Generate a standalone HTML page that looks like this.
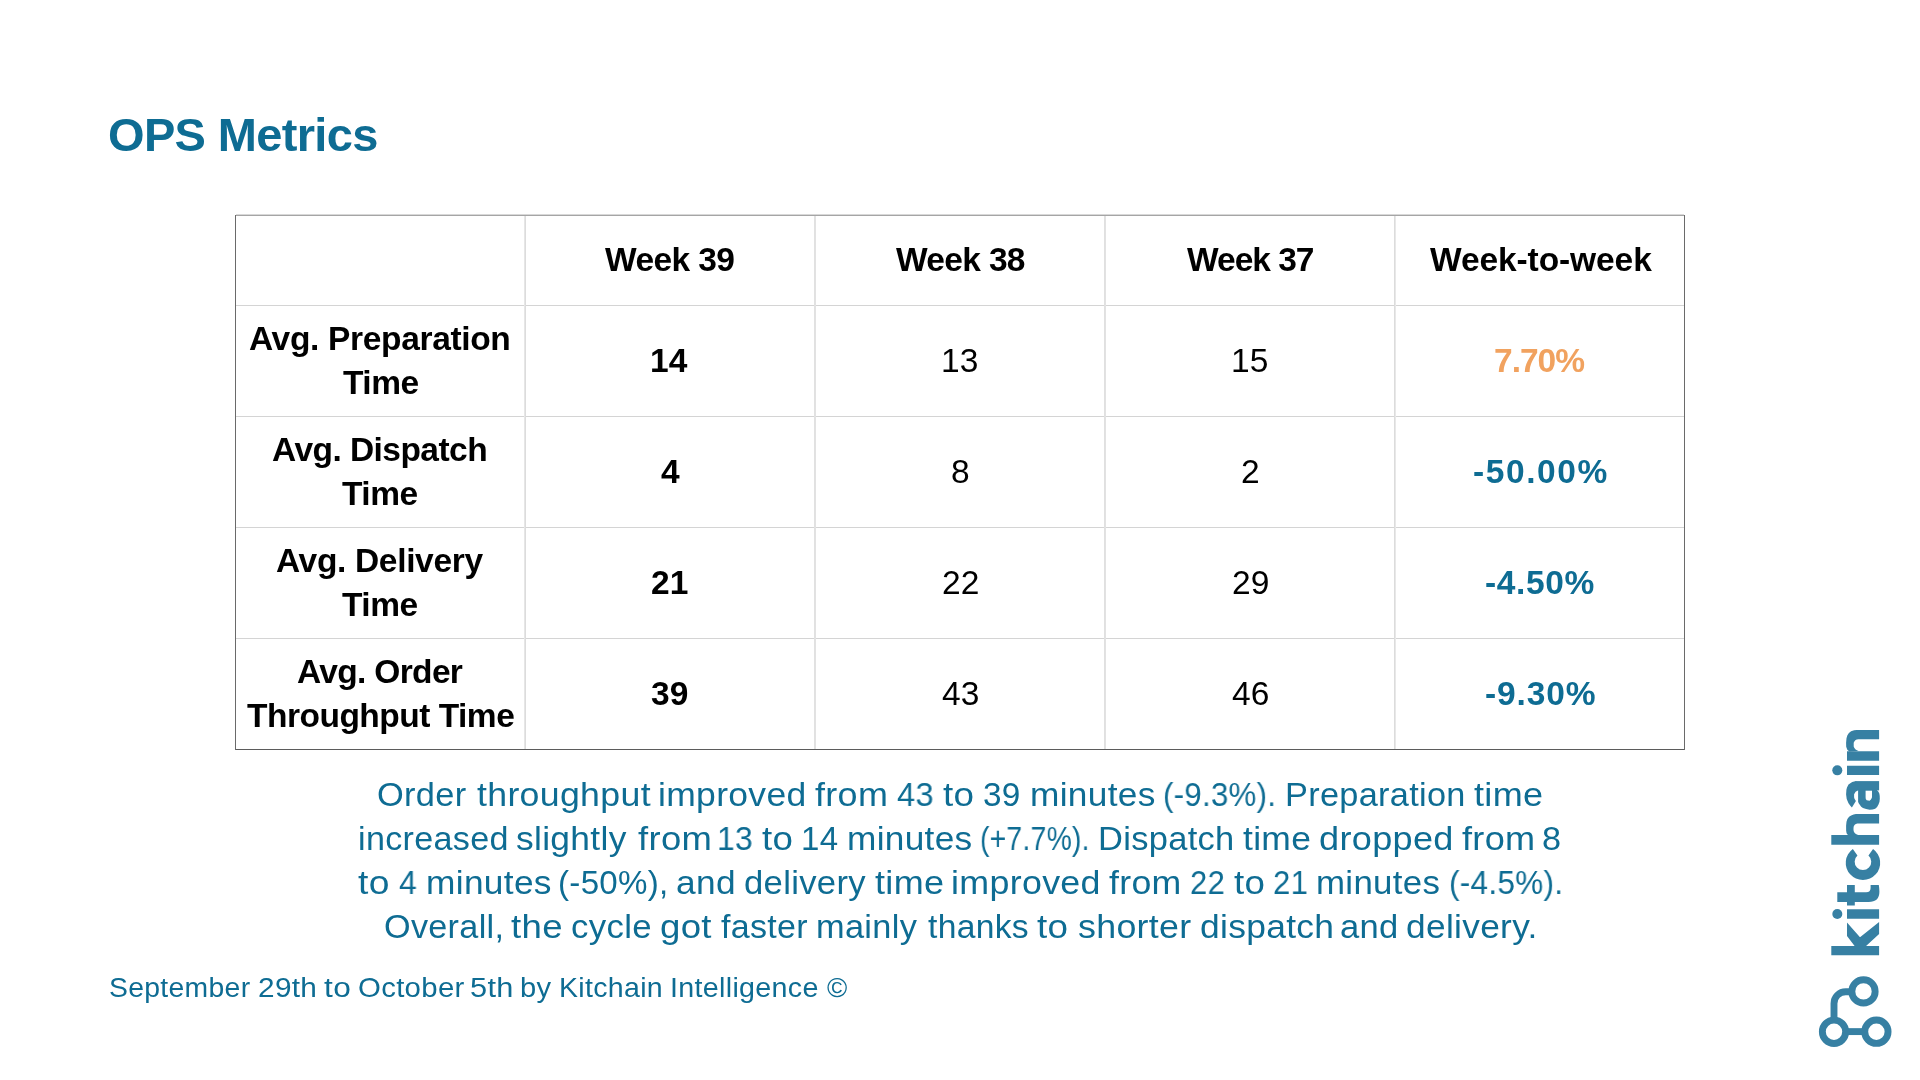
<!DOCTYPE html>
<html>
<head>
<meta charset="utf-8">
<style>
html,body{margin:0;padding:0;background:#fff;}
body{width:1920px;height:1080px;position:relative;overflow:hidden;font-family:"Liberation Sans",sans-serif;}
.t{position:absolute;white-space:nowrap;line-height:1;will-change:transform;}
.b{font-weight:bold;}
.hl{position:absolute;left:235px;width:1450px;height:1px;background:#d4d4d4;}
.vl{position:absolute;top:216px;height:533px;width:1px;background:#d4d4d4;}
.ob{position:absolute;background:#6a6a6a;}
</style>
</head>
<body>
<div class="hl" style="top:305px"></div>
<div class="hl" style="top:416px"></div>
<div class="hl" style="top:527px"></div>
<div class="hl" style="top:638px"></div>
<div class="vl" style="left:524px;background:#e6e6e6"></div>
<div class="vl" style="left:525px;background:#dcdcdc"></div>
<div class="vl" style="left:814px;background:#e1e1e1"></div>
<div class="vl" style="left:815px;background:#e2e2e2"></div>
<div class="vl" style="left:1104px;background:#e0e0e0"></div>
<div class="vl" style="left:1105px;background:#e2e2e2"></div>
<div class="vl" style="left:1394px;background:#dcdcdc"></div>
<div class="vl" style="left:1395px;background:#e8e8e8"></div>
<div class="ob" style="left:236px;top:214px;width:1448px;height:1px;background:#d8d8d8"></div>
<div class="ob" style="left:236px;top:215px;width:1448px;height:1px;background:#a5a5a5"></div>
<div class="ob" style="left:235px;top:749px;width:1450px;height:1px;background:#5b5b5b"></div>
<div class="ob" style="left:235px;top:215px;width:1px;height:535px"></div>
<div class="ob" style="left:1684px;top:215px;width:1px;height:535px"></div>
<div id="title" class="t b" style="left:108.35px;top:111.00px;font-size:47px;color:#0e6c93;letter-spacing:-0.650px">OPS Metrics</div>
<div id="h1" class="t b" style="left:605.00px;top:242.90px;font-size:33.5px;color:#000;letter-spacing:-0.583px">Week 39</div>
<div id="h2" class="t b" style="left:895.75px;top:242.90px;font-size:33.5px;color:#000;letter-spacing:-0.667px">Week 38</div>
<div id="h3" class="t b" style="left:1187.00px;top:242.90px;font-size:33.5px;color:#000;letter-spacing:-1.000px">Week 37</div>
<div id="h4" class="t b" style="left:1429.75px;top:243.00px;font-size:33.5px;color:#000;letter-spacing:-0.091px">Week-to-week</div>
<div id="r1a" class="t b" style="left:249.35px;top:322.30px;font-size:33.5px;color:#000;letter-spacing:-0.333px">Avg. Preparation</div>
<div id="r1b" class="t b" style="left:342.57px;top:365.60px;font-size:33.5px;color:#000;letter-spacing:-0.500px">Time</div>
<div id="r2a" class="t b" style="left:272.14px;top:433.20px;font-size:33.5px;color:#000;letter-spacing:-0.542px">Avg. Dispatch</div>
<div id="r2b" class="t b" style="left:342.00px;top:477.20px;font-size:33.5px;color:#000;letter-spacing:-0.500px">Time</div>
<div id="r3a" class="t b" style="left:276.14px;top:544.20px;font-size:33.5px;color:#000;letter-spacing:-0.333px">Avg. Delivery</div>
<div id="r3b" class="t b" style="left:342.00px;top:588.20px;font-size:33.5px;color:#000;letter-spacing:-0.500px">Time</div>
<div id="r4a" class="t b" style="left:296.57px;top:655.20px;font-size:33.5px;color:#000;letter-spacing:-0.667px">Avg. Order</div>
<div id="r4b" class="t b" style="left:246.57px;top:699.20px;font-size:33.5px;color:#000;letter-spacing:-0.500px">Throughput Time</div>
<div id="p1" class="t b" style="left:1493.75px;top:343.90px;font-size:33.5px;color:#f1a25f;letter-spacing:-1.000px">7.70%</div>
<div id="p2" class="t b" style="left:1472.75px;top:454.90px;font-size:33.5px;color:#0e6c93;letter-spacing:1.583px">-50.00%</div>
<div id="p3" class="t b" style="left:1485.17px;top:565.90px;font-size:33.5px;color:#0e6c93;letter-spacing:0.650px">-4.50%</div>
<div id="p4" class="t b" style="left:1484.75px;top:677.30px;font-size:33.5px;color:#0e6c93;letter-spacing:0.900px">-9.30%</div>
<div id="l1_w0" class="t" style="left:377.45px;top:777.80px;font-size:33px;color:#0e6c93;letter-spacing:0.300px;transform:scaleX(1.0423);transform-origin:0 0;">Order</div>
<div id="l1_w1" class="t" style="left:477.00px;top:777.80px;font-size:33px;color:#0e6c93;letter-spacing:0.300px;transform:scaleX(1.0813);transform-origin:0 0;">throughput</div>
<div id="l1_w2" class="t" style="left:658.01px;top:777.80px;font-size:33px;color:#0e6c93;letter-spacing:0.300px;transform:scaleX(1.0754);transform-origin:0 0;">improved</div>
<div id="l1_w3" class="t" style="left:815.40px;top:777.80px;font-size:33px;color:#0e6c93;letter-spacing:0.300px;transform:scaleX(1.0892);transform-origin:0 0;">from</div>
<div id="l1_w4" class="t" style="left:897.00px;top:777.80px;font-size:33px;color:#0e6c93;letter-spacing:0.300px;transform:scaleX(0.9861);transform-origin:0 0;">43</div>
<div id="l1_w5" class="t" style="left:943.20px;top:777.80px;font-size:33px;color:#0e6c93;letter-spacing:0.300px;transform:scaleX(1.1148);transform-origin:0 0;">to</div>
<div id="l1_w6" class="t" style="left:982.99px;top:777.80px;font-size:33px;color:#0e6c93;letter-spacing:0.300px;transform:scaleX(1.0086);transform-origin:0 0;">39</div>
<div id="l1_w7" class="t" style="left:1030.23px;top:777.80px;font-size:33px;color:#0e6c93;letter-spacing:0.300px;transform:scaleX(1.0684);transform-origin:0 0;">minutes</div>
<div id="l1_w8" class="t" style="left:1163.11px;top:777.80px;font-size:33px;color:#0e6c93;letter-spacing:0.300px;transform:scaleX(0.9457);transform-origin:0 0;">(-9.3%).</div>
<div id="l1_w9" class="t" style="left:1284.51px;top:777.80px;font-size:33px;color:#0e6c93;letter-spacing:0.300px;transform:scaleX(1.0394);transform-origin:0 0;">Preparation</div>
<div id="l1_w10" class="t" style="left:1474.00px;top:777.80px;font-size:33px;color:#0e6c93;letter-spacing:0.300px;transform:scaleX(1.0919);transform-origin:0 0;">time</div>
<div id="l2_w0" class="t" style="left:358.33px;top:821.80px;font-size:33px;color:#0e6c93;letter-spacing:0.300px;transform:scaleX(1.0338);transform-origin:0 0;">increased</div>
<div id="l2_w1" class="t" style="left:515.89px;top:821.80px;font-size:33px;color:#0e6c93;letter-spacing:0.300px;transform:scaleX(1.0716);transform-origin:0 0;">slightly</div>
<div id="l2_w2" class="t" style="left:637.63px;top:821.80px;font-size:33px;color:#0e6c93;letter-spacing:0.300px;transform:scaleX(1.1046);transform-origin:0 0;">from</div>
<div id="l2_w3" class="t" style="left:717.29px;top:821.80px;font-size:33px;color:#0e6c93;letter-spacing:0.300px;transform:scaleX(0.9618);transform-origin:0 0;">13</div>
<div id="l2_w4" class="t" style="left:761.94px;top:821.80px;font-size:33px;color:#0e6c93;letter-spacing:0.300px;transform:scaleX(1.1111);transform-origin:0 0;">to</div>
<div id="l2_w5" class="t" style="left:801.39px;top:821.80px;font-size:33px;color:#0e6c93;letter-spacing:0.300px;transform:scaleX(0.9971);transform-origin:0 0;">14</div>
<div id="l2_w6" class="t" style="left:847.07px;top:821.80px;font-size:33px;color:#0e6c93;letter-spacing:0.300px;transform:scaleX(1.0671);transform-origin:0 0;">minutes</div>
<div id="l2_w7" class="t" style="left:979.75px;top:821.80px;font-size:33px;color:#0e6c93;letter-spacing:0.300px;transform:scaleX(0.8573);transform-origin:0 0;">(+7.7%).</div>
<div id="l2_w8" class="t" style="left:1097.91px;top:821.80px;font-size:33px;color:#0e6c93;letter-spacing:0.300px;transform:scaleX(1.0441);transform-origin:0 0;">Dispatch</div>
<div id="l2_w9" class="t" style="left:1243.20px;top:821.80px;font-size:33px;color:#0e6c93;letter-spacing:0.300px;transform:scaleX(1.0742);transform-origin:0 0;">time</div>
<div id="l2_w10" class="t" style="left:1319.31px;top:821.80px;font-size:33px;color:#0e6c93;letter-spacing:0.300px;transform:scaleX(1.0933);transform-origin:0 0;">dropped</div>
<div id="l2_w11" class="t" style="left:1461.78px;top:821.80px;font-size:33px;color:#0e6c93;letter-spacing:0.300px;transform:scaleX(1.0938);transform-origin:0 0;">from</div>
<div id="l2_w12" class="t" style="left:1541.94px;top:821.80px;font-size:33px;color:#0e6c93;letter-spacing:0.300px;transform:scaleX(1.0375);transform-origin:0 0;">8</div>
<div id="l3_w0" class="t" style="left:358.47px;top:865.90px;font-size:33px;color:#0e6c93;letter-spacing:0.300px;transform:scaleX(1.1278);transform-origin:0 0;">to</div>
<div id="l3_w1" class="t" style="left:399.40px;top:865.90px;font-size:33px;color:#0e6c93;letter-spacing:0.300px;transform:scaleX(0.9667);transform-origin:0 0;">4</div>
<div id="l3_w2" class="t" style="left:426.06px;top:865.90px;font-size:33px;color:#0e6c93;letter-spacing:0.300px;transform:scaleX(1.0693);transform-origin:0 0;">minutes</div>
<div id="l3_w3" class="t" style="left:557.99px;top:865.90px;font-size:33px;color:#0e6c93;letter-spacing:0.300px;transform:scaleX(1.0029);transform-origin:0 0;">(-50%),</div>
<div id="l3_w4" class="t" style="left:676.33px;top:865.90px;font-size:33px;color:#0e6c93;letter-spacing:0.300px;transform:scaleX(1.0698);transform-origin:0 0;">and</div>
<div id="l3_w5" class="t" style="left:743.76px;top:865.90px;font-size:33px;color:#0e6c93;letter-spacing:0.300px;transform:scaleX(1.0496);transform-origin:0 0;">delivery</div>
<div id="l3_w6" class="t" style="left:875.16px;top:865.90px;font-size:33px;color:#0e6c93;letter-spacing:0.300px;transform:scaleX(1.0911);transform-origin:0 0;">time</div>
<div id="l3_w7" class="t" style="left:951.31px;top:865.90px;font-size:33px;color:#0e6c93;letter-spacing:0.300px;transform:scaleX(1.0847);transform-origin:0 0;">improved</div>
<div id="l3_w8" class="t" style="left:1109.16px;top:865.90px;font-size:33px;color:#0e6c93;letter-spacing:0.300px;transform:scaleX(1.0815);transform-origin:0 0;">from</div>
<div id="l3_w9" class="t" style="left:1189.83px;top:865.90px;font-size:33px;color:#0e6c93;letter-spacing:0.300px;transform:scaleX(0.9371);transform-origin:0 0;">22</div>
<div id="l3_w10" class="t" style="left:1233.63px;top:865.90px;font-size:33px;color:#0e6c93;letter-spacing:0.300px;transform:scaleX(1.1111);transform-origin:0 0;">to</div>
<div id="l3_w11" class="t" style="left:1272.86px;top:865.90px;font-size:33px;color:#0e6c93;letter-spacing:0.300px;transform:scaleX(0.9400);transform-origin:0 0;">21</div>
<div id="l3_w12" class="t" style="left:1315.67px;top:865.90px;font-size:33px;color:#0e6c93;letter-spacing:0.300px;transform:scaleX(1.0561);transform-origin:0 0;">minutes</div>
<div id="l3_w13" class="t" style="left:1448.67px;top:865.90px;font-size:33px;color:#0e6c93;letter-spacing:0.300px;transform:scaleX(0.9548);transform-origin:0 0;">(-4.5%).</div>
<div id="l4_w0" class="t" style="left:383.96px;top:909.60px;font-size:33px;color:#0e6c93;letter-spacing:0.300px;transform:scaleX(1.0357);transform-origin:0 0;">Overall,</div>
<div id="l4_w1" class="t" style="left:510.95px;top:909.60px;font-size:33px;color:#0e6c93;letter-spacing:0.300px;transform:scaleX(1.1089);transform-origin:0 0;">the</div>
<div id="l4_w2" class="t" style="left:570.73px;top:909.60px;font-size:33px;color:#0e6c93;letter-spacing:0.300px;transform:scaleX(1.0541);transform-origin:0 0;">cycle</div>
<div id="l4_w3" class="t" style="left:659.72px;top:909.60px;font-size:33px;color:#0e6c93;letter-spacing:0.300px;transform:scaleX(1.1089);transform-origin:0 0;">got</div>
<div id="l4_w4" class="t" style="left:720.59px;top:909.60px;font-size:33px;color:#0e6c93;letter-spacing:0.300px;transform:scaleX(1.0310);transform-origin:0 0;">faster</div>
<div id="l4_w5" class="t" style="left:815.70px;top:909.60px;font-size:33px;color:#0e6c93;letter-spacing:0.300px;transform:scaleX(1.0411);transform-origin:0 0;">mainly</div>
<div id="l4_w6" class="t" style="left:927.60px;top:909.60px;font-size:33px;color:#0e6c93;letter-spacing:0.300px;transform:scaleX(1.0194);transform-origin:0 0;">thanks</div>
<div id="l4_w7" class="t" style="left:1037.35px;top:909.60px;font-size:33px;color:#0e6c93;letter-spacing:0.300px;transform:scaleX(1.1148);transform-origin:0 0;">to</div>
<div id="l4_w8" class="t" style="left:1077.54px;top:909.60px;font-size:33px;color:#0e6c93;letter-spacing:0.300px;transform:scaleX(1.0835);transform-origin:0 0;">shorter</div>
<div id="l4_w9" class="t" style="left:1199.75px;top:909.60px;font-size:33px;color:#0e6c93;letter-spacing:0.300px;transform:scaleX(1.0721);transform-origin:0 0;">dispatch</div>
<div id="l4_w10" class="t" style="left:1340.33px;top:909.60px;font-size:33px;color:#0e6c93;letter-spacing:0.300px;transform:scaleX(1.0472);transform-origin:0 0;">and</div>
<div id="l4_w11" class="t" style="left:1406.30px;top:909.60px;font-size:33px;color:#0e6c93;letter-spacing:0.300px;transform:scaleX(1.0689);transform-origin:0 0;">delivery.</div>
<div id="foot_w0" class="t" style="left:108.77px;top:974.00px;font-size:27.5px;color:#0e6c93;letter-spacing:0.300px;transform:scaleX(1.0305);transform-origin:0 0;">September</div>
<div id="foot_w1" class="t" style="left:257.54px;top:974.00px;font-size:27.5px;color:#0e6c93;letter-spacing:0.300px;transform:scaleX(1.0827);transform-origin:0 0;">29th</div>
<div id="foot_w2" class="t" style="left:323.77px;top:974.00px;font-size:27.5px;color:#0e6c93;letter-spacing:0.300px;transform:scaleX(1.1500);transform-origin:0 0;">to</div>
<div id="foot_w3" class="t" style="left:357.55px;top:974.00px;font-size:27.5px;color:#0e6c93;letter-spacing:0.300px;transform:scaleX(1.0673);transform-origin:0 0;">October</div>
<div id="foot_w4" class="t" style="left:469.88px;top:974.00px;font-size:27.5px;color:#0e6c93;letter-spacing:0.300px;transform:scaleX(1.1181);transform-origin:0 0;">5th</div>
<div id="foot_w5" class="t" style="left:520.08px;top:974.00px;font-size:27.5px;color:#0e6c93;letter-spacing:0.300px;transform:scaleX(1.0593);transform-origin:0 0;">by</div>
<div id="foot_w6" class="t" style="left:558.73px;top:974.00px;font-size:27.5px;color:#0e6c93;letter-spacing:0.300px;transform:scaleX(1.0371);transform-origin:0 0;">Kitchain</div>
<div id="foot_w7" class="t" style="left:669.90px;top:974.00px;font-size:27.5px;color:#0e6c93;letter-spacing:0.300px;transform:scaleX(1.0418);transform-origin:0 0;">Intelligence</div>
<div id="foot_w8" class="t" style="left:827.19px;top:974.00px;font-size:27.5px;color:#0e6c93;letter-spacing:0.300px;transform:scaleX(0.9800);transform-origin:0 0;">©</div>
<div id="n00" class="t b" style="left:650.00px;top:343.90px;font-size:33.5px;color:#000;letter-spacing:0.000px">14</div>
<div id="n01" class="t" style="left:941.00px;top:343.90px;font-size:33.5px;color:#000;letter-spacing:0.000px">13</div>
<div id="n02" class="t" style="left:1231.00px;top:343.90px;font-size:33.5px;color:#000;letter-spacing:0.000px">15</div>
<div id="n10" class="t b" style="left:660.50px;top:454.90px;font-size:33.5px;color:#000;letter-spacing:0.000px">4</div>
<div id="n11" class="t" style="left:950.50px;top:454.90px;font-size:33.5px;color:#000;letter-spacing:0.000px">8</div>
<div id="n12" class="t" style="left:1241.00px;top:454.90px;font-size:33.5px;color:#000;letter-spacing:0.000px">2</div>
<div id="n20" class="t b" style="left:651.00px;top:565.90px;font-size:33.5px;color:#000;letter-spacing:0.000px">21</div>
<div id="n21" class="t" style="left:941.50px;top:565.90px;font-size:33.5px;color:#000;letter-spacing:0.000px">22</div>
<div id="n22" class="t" style="left:1231.50px;top:565.90px;font-size:33.5px;color:#000;letter-spacing:0.000px">29</div>
<div id="n30" class="t b" style="left:651.00px;top:677.30px;font-size:33.5px;color:#000;letter-spacing:0.000px">39</div>
<div id="n31" class="t" style="left:942.00px;top:677.30px;font-size:33.5px;color:#000;letter-spacing:0.000px">43</div>
<div id="n32" class="t" style="left:1232.00px;top:677.30px;font-size:33.5px;color:#000;letter-spacing:0.000px">46</div>
<svg style="position:absolute;left:0;top:0" width="1920" height="1080" viewBox="0 0 1920 1080">
<g fill="#3780a3" fill-rule="evenodd" transform="matrix(0,-1,1,0,1879.1,955.3)">
<path d="M0.00,0.00 L9.40,0.00 L9.40,-47.80 L0.00,-47.80 Z"/>
<path d="M9.00,-24.30 L19.30,-32.10 L32.90,-32.10 L18.00,-19.10 L33.20,0.00 L21.20,0.00 L9.00,-13.30 Z"/>
<path d="M36.60,0.00 L46.00,0.00 L46.00,-32.10 L36.60,-32.10 Z"/>
<path d="M53.3,-41.8 L63,-41.8 L63,-32.1 L70.3,-32.1 L70.3,-24.3 L63,-24.3 L63,-13 Q63,-8.5 67.2,-8.5 L70.3,-8.5 L70.3,-0.3 Q67,0.3 63.5,0.3 Q53.3,0.3 53.3,-10.5 L53.3,-24.3 L49.7,-24.3 L49.7,-32.1 L53.3,-32.1 Z"/>
<path d="M106.4,-26.25 A17.2,17.2 0 1 0 106.4,-6.05 L99.7,-10.65 A8.3,8.3 0 1 1 99.7,-21.65 Z"/>
<path d="M110.50,0.00 L120.20,0.00 L120.20,-47.80 L110.50,-47.80 Z"/>
<path d="M119.80,-29.80 L120.50,-31.50 L122.00,-32.50 L124.50,-32.95 L129.60,-33.00 L133.50,-32.60 L136.20,-31.70 L138.50,-30.00 L139.90,-28.00 L140.80,-25.50 L141.20,-23.20 L141.20,0.00 L131.70,0.00 L131.70,-21.70 L131.30,-23.30 L130.40,-24.60 L128.90,-25.40 L127.30,-25.60 L125.30,-25.60 L123.60,-25.20 L122.20,-24.40 L121.20,-23.20 L120.50,-21.60 L120.10,-20.00 Z"/>
<path d="M164.90,0.00 L174.20,0.00 L174.20,-23.50 L164.90,-23.50 Z"/>
<path d="M174.20,-23.00 L173.30,-26.90 L170.70,-30.60 L167.80,-32.10 L165.50,-32.70 L160.70,-33.00 L156.20,-32.40 L152.10,-30.60 L149.50,-28.80 L147.70,-27.20 L154.40,-23.20 L156.50,-24.60 L158.10,-25.00 L161.00,-25.00 L163.60,-23.50 L164.90,-21.30 L166.00,-21.30 Z"/>
<path d="M164.90,-21.00 L153.60,-21.00 L152.00,-20.40 L150.70,-19.50 L148.60,-17.90 L147.30,-16.10 L146.20,-13.00 L145.50,-9.50 L145.70,-6.50 L146.60,-3.90 L148.30,-2.00 L150.70,-0.60 L153.50,0.40 L156.60,0.70 L159.50,0.60 L161.80,0.20 L163.80,-0.80 L165.10,-2.10 L166.00,-2.10 L166.00,-21.00 Z M164.70,-13.50 L164.70,-7.10 L158.10,-7.10 L156.80,-7.60 L155.60,-8.40 L154.60,-9.60 L154.70,-11.00 L155.10,-12.40 L156.40,-13.30 L158.10,-13.50 Z"/>
<path d="M180.30,0.00 L189.60,0.00 L189.60,-32.10 L180.30,-32.10 Z"/>
<path d="M194.60,0.00 L204.10,0.00 L204.10,-32.10 L194.60,-32.10 Z"/>
<path d="M203.80,-29.80 L205.50,-31.80 L208.50,-32.90 L212.60,-33.00 L217.00,-32.60 L220.00,-31.70 L222.30,-30.20 L224.00,-28.00 L225.00,-25.00 L225.30,-22.40 L225.30,0.00 L216.10,0.00 L216.10,-20.60 L215.70,-22.30 L215.20,-23.50 L214.10,-24.60 L212.60,-25.40 L208.90,-25.40 L207.30,-24.70 L205.90,-23.50 L205.00,-22.20 L204.40,-20.60 Z"/>
<circle cx="41.30" cy="-41.80" r="5"/>
<circle cx="184.95" cy="-41.80" r="5"/>
</g>
<g fill="none" stroke="#3780a3" stroke-width="6.9">
<circle cx="1834" cy="1031.8" r="11.65"/>
<circle cx="1876.4" cy="1031.7" r="11.65"/>
<circle cx="1863.5" cy="991.4" r="11.65"/>
<path d="M1834,1021 L1834,1003.5 A11.8,11.8 0 0 1 1845.8,991.7 L1853,991.7"/>
<path d="M1844,1031.6 L1866,1031.6"/>
</g>
</svg>
</body>
</html>
